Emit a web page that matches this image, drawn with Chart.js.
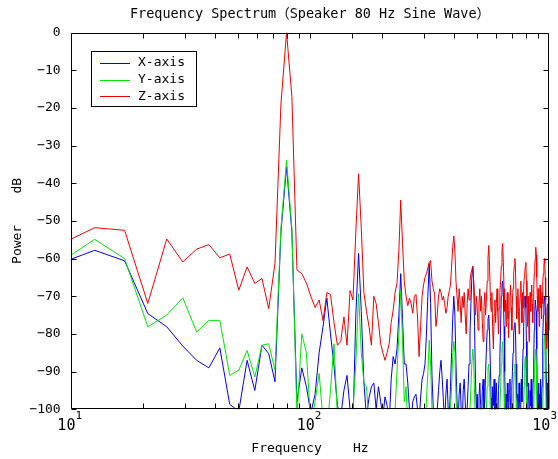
<!DOCTYPE html>
<html><head><meta charset="utf-8">
<script src="https://cdn.jsdelivr.net/npm/chart.js@4.4.0/dist/chart.umd.min.js"></script>
<style>html,body{margin:0;padding:0;background:#fff;overflow:hidden}</style>
</head><body>
<canvas id="c" width="558" height="459" style="width:558px;height:459px;display:block"></canvas>
<script>
const TITLE = 'Frequency Spectrum（Speaker 80 Hz Sine Wave）';
const X_TITLE = 'Frequency    Hz';
const Y_TITLE = 'Power    dB';
const SERIES_NAMES = ['X-axis', 'Y-axis', 'Z-axis'];
const SERIES_COLORS = ['#0000ee', '#00e600', '#ee0000'];
// FFT bins: bin spacing in Hz and index of the first listed bin
const BIN_HZ = 4.2;
const FIRST_BIN = 2;
// x tick labels: base and exponent (10^1, 10^2, 10^3)
const X_TICK_VALUES = [10, 100, 1000];
const X_TICK_EXPONENTS = ['1', '2', '3'];

const xAxisDb = [
 -62,-57.8,-60.6,-74.6,-78.1,-83.2,-87,-89,-83.7,-98.7,
 -100.5,-87,-95,-83,-85.2,-92.7,-53,-35.6,-53,-98,
 -89,-94,-101,-96,-85,-78,-70.5,-80,-88.5,-99,
 -102,-95,-91,-100,-104,-75,-58.6,-74,-93,-102,
 -97,-94,-93,-100,-94,-98,-102,-96.7,-99,-104,
 -92,-86,-88,-84,-75,-64,-76,-88,-88,-93,
 -100,-104,-98,-96.7,-96,-100,-104,-97,-92,-90.5,
 -88,-80,-70,-61.3,-72,-91,-100,-105,-104,-100,
 -95,-90,-87,-92,-98,-104,-96,-92,-100,-102,
 -94,-85,-76,-70,-75,-88,-98,-104,-96,-93,
 -100,-104,-95,-92,-98,-103,-100,-94,-88,-80,
 -72,-65,-62,-66,-78,-92,-100,-96,-104,-97,
 -93,-99,-104,-95,-92,-100,-98,-90,-84,-79,
 -76,-75,-80,-88,-97,-104,-94,-99,-92,-105,
 -96,-93,-100,-104,-95,-91,-86,-78,-70,-67,
 -66,-69,-78,-90,-100,-96,-104,-93,-98,-102,
 -95,-92,-99,-104,-94,-90,-85,-80,-78,-77,
 -79,-88,-97,-104,-96,-100,-93,-98,-104,-95,
 -92,-98,-90,-84,-78,-72,-70,-70,-73,-82,
 -94,-104,-97,-93,-100,-104,-95,-99,-92,-100,
 -104,-96,-92,-86,-79,-74,-71,-71,-74,-84,
 -95,-104,-98,-93,-100,-96,-104,-92,-97,-100,
 -94,-88,-81,-75,-71,-70,-70,-73,-80,-90,
 -100,-96,-104,-93,-98,-90,-95,-100,-97
];
const yAxisDb = [
 -62.3,-54.9,-60,-78.1,-75,-70.4,-79.5,-76.4,-76.4,-91,
 -89.6,-84.4,-91.4,-83,-82.6,-89.6,-52,-33.9,-52,-102,
 -80,-85,-104,-98,-90.5,-103,-106,-95,-82.6,-102,
 -106,-104,-102,-108,-100,-88,-69.3,-85,-93,-94,
 -104,-108,-106,-104,-108,-106,-104,-108,-106,-104,
 -108,-106,-100,-90,-80,-68.4,-82,-98,-94,-104,
 -108,-106,-104,-108,-106,-104,-108,-106,-104,-108,
 -104,-98,-90,-81.7,-88,-100,-108,-106,-104,-108,
 -106,-104,-108,-106,-104,-108,-106,-104,-108,-104,
 -100,-94,-86,-82,-85,-96,-106,-104,-108,-106,
 -104,-108,-106,-104,-108,-106,-104,-108,-106,-100,
 -94,-88,-84,-87,-96,-106,-108,-104,-106,-108,
 -104,-106,-108,-104,-106,-108,-104,-106,-100,-94,
 -89,-88,-92,-100,-108,-104,-106,-108,-104,-106,
 -108,-104,-106,-108,-104,-106,-100,-94,-88,-84,
 -82,-86,-96,-106,-108,-104,-106,-108,-104,-106,
 -108,-104,-106,-108,-104,-106,-100,-94,-90,-88,
 -90,-98,-106,-108,-104,-106,-108,-104,-106,-108,
 -104,-106,-108,-104,-100,-94,-88,-86,-89,-97,
 -106,-108,-104,-106,-108,-104,-106,-108,-104,-106,
 -108,-104,-106,-100,-94,-88,-84,-84,-88,-96,
 -106,-108,-104,-106,-108,-104,-106,-108,-104,-106,
 -108,-104,-100,-92,-86,-81,-80,-84,-92,-102,
 -108,-104,-106,-108,-104,-95,-88,-96,-106
];
const zAxisDb = [
 -57.2,-51.8,-52.5,-71.9,-54.8,-60.9,-57.5,-56.3,-59.8,-58.8,
 -68.4,-62.2,-66.6,-65.3,-73.3,-61.3,-19,0,-17,-63,
 -64,-66.5,-70,-73,-71,-76.5,-69,-69.5,-77,-83,
 -82,-75.5,-83,-68.5,-71,-53,-37.5,-52,-69,-74,
 -78,-83,-70,-72,-77,-82.6,-85,-87,-85,-82.6,
 -77,-73.7,-69,-66.6,-57.8,-44.5,-56,-66,-70,-72.5,
 -70.5,-72,-74.5,-70,-69.5,-75.5,-86,-78,-70,-67,
 -65,-64,-62.5,-61,-60.5,-66,-68,-69.5,-78,-75,
 -70,-68,-69,-71,-70,-72,-74.5,-73,-70,-68.5,
 -67,-62,-57,-54,-58,-66,-70,-74,-68,-72,
 -77,-70,-73,-69,-75,-80,-72,-68,-71,-66,
 -64,-63,-62,-66,-70,-75,-70,-73,-79,-72,
 -68,-74,-70,-77,-82,-73,-69,-75,-71,-66,
 -60,-56.5,-62,-70,-74,-69,-78,-84,-75,-71,
 -77,-72,-68,-74,-80,-73,-69,-66,-62,-58,
 -56,-61,-68,-74,-71,-78,-72,-69,-76,-81,
 -74,-70,-67,-73,-79,-71,-68,-64,-62,-60,
 -63,-70,-76,-72,-68,-74,-80,-73,-70,-66,
 -71,-77,-69,-73,-68,-65,-64,-62,-61,-66,
 -72,-78,-70,-75,-82,-73,-69,-74,-70,-67,
 -72,-77,-71,-68,-64,-62,-60,-57,-59,-65,
 -70,-74,-68,-72,-78,-71,-67,-73,-70,-76,
 -69,-72,-66,-64,-62,-60,-61,-65,-71,-77,
 -84,-78,-72,-80,-86,-75,-70,-79,-74
];

const freqHz = xAxisDb.map((_, i) => +((FIRST_BIN + i) * BIN_HZ).toFixed(2));
const toPoints = arr => arr.map((v, i) => ({x: freqHz[i], y: v}));
const seriesDb = [xAxisDb, yAxisDb, zAxisDb];

const FONT = "'DejaVu Sans Mono', 'Noto Sans CJK JP', monospace";
Chart.defaults.font.family = FONT;
Chart.defaults.color = '#000';

const framePlugin = {
  id: 'frame',
  afterDatasetsDraw(chart) {
    const {ctx, chartArea: a, scales: {x, y}} = chart;
    const L = Math.round(a.left) + 0.5, R = Math.round(a.right) - 0.5;
    const T = Math.round(a.top) + 0.5, B = Math.round(a.bottom) - 0.5;
    ctx.save();
    ctx.strokeStyle = '#000';
    ctx.lineWidth = 1;
    ctx.beginPath();
    ctx.rect(L, T, R - L, B - T);
    x.ticks.forEach(t => {
      const px = Math.round(x.getPixelForValue(t.value)) + 0.5;
      if (px < L || px > R) return;
      ctx.moveTo(px, B); ctx.lineTo(px, B - 5);
      ctx.moveTo(px, T); ctx.lineTo(px, T + 5);
    });
    y.ticks.forEach(t => {
      const py = Math.round(y.getPixelForValue(t.value)) + 0.5;
      ctx.moveTo(L, py); ctx.lineTo(L + 5, py);
      ctx.moveTo(R, py); ctx.lineTo(R - 5, py);
    });
    ctx.stroke();
    ctx.restore();
  }
};

const textPlugin = {
  id: 'texts',
  afterDraw(chart) {
    const {ctx, chartArea: a, scales: {x}} = chart;
    ctx.save();
    ctx.fillStyle = '#000';
    // title centred over the plot area
    ctx.font = "13.5px " + FONT;
    ctx.textAlign = 'center';
    ctx.textBaseline = 'middle';
    ctx.fillText(TITLE, (a.left + a.right) / 2, 14);
    // x tick labels: 10 with a raised exponent
    ctx.textAlign = 'left';
    X_TICK_VALUES.forEach((v, i) => {
      const px = x.getPixelForValue(v);
      ctx.font = "15px " + FONT;
      const wb = ctx.measureText('10').width;
      ctx.font = "11px " + FONT;
      const we = ctx.measureText(X_TICK_EXPONENTS[i]).width;
      let sx = px - (wb + we) / 2 - 1;
      if (sx + wb + we > 557) sx = 557 - wb - we;
      ctx.font = "15px " + FONT;
      ctx.fillText('10', sx, 426);
      ctx.font = "11px " + FONT;
      ctx.fillText(X_TICK_EXPONENTS[i], sx + wb, 416);
    });
    // legend box
    const bx = 91.5, by = 51.5, bw = 105, bh = 55;
    ctx.fillStyle = '#fff';
    ctx.fillRect(bx, by, bw, bh);
    ctx.strokeStyle = '#000';
    ctx.lineWidth = 1;
    ctx.strokeRect(bx, by, bw, bh);
    ctx.font = "13px " + FONT;
    ctx.textBaseline = 'middle';
    ctx.textAlign = 'left';
    chart.data.datasets.forEach((ds, i) => {
      const ly = 63 + i * 16.7;
      ctx.strokeStyle = ds.borderColor;
      ctx.beginPath();
      ctx.moveTo(100, Math.round(ly) + 0.5);
      ctx.lineTo(130, Math.round(ly) + 0.5);
      ctx.stroke();
      ctx.fillStyle = '#000';
      ctx.fillText(ds.label, 138, ly);
    });
    ctx.restore();
  }
};

new Chart(document.getElementById('c'), {
  type: 'line',
  data: {
    datasets: seriesDb.map((arr, i) => ({
      label: SERIES_NAMES[i],
      data: toPoints(arr),
      borderColor: SERIES_COLORS[i],
      backgroundColor: SERIES_COLORS[i],
      borderWidth: 1,
      pointRadius: 0,
      tension: 0,
      fill: false,
      order: 2 - i
    }))
  },
  options: {
    responsive: false,
    animation: false,
    devicePixelRatio: 1,
    layout: {padding: {left: 0, right: 8.7, top: 32.5, bottom: 0}, autoPadding: false},
    plugins: {
      legend: {display: false},
      tooltip: {enabled: false},
      title: {display: false}
    },
    scales: {
      x: {
        type: 'logarithmic', min: 10, max: 1000,
        grid: {display: false, drawTicks: false},
        border: {display: false},
        afterFit: s => { s.height = 49.7; s.paddingLeft = 0; s.paddingRight = 0; },
        ticks: {autoSkip: false, maxRotation: 0, padding: 6, callback: () => ''},
        title: {display: true, text: X_TITLE, font: {size: 13}, padding: {top: 0, bottom: 3}}
      },
      y: {
        min: -100, max: 0,
        grid: {display: false, drawTicks: false},
        border: {display: false},
        afterFit: s => { s.width = 70.7; s.paddingTop = 0; s.paddingBottom = 0; },
        ticks: {
          stepSize: 10, padding: 10, font: {size: 13},
          callback: v => v < 0 ? '−' + Math.abs(v) : String(v)
        },
        title: {display: true, text: Y_TITLE, font: {size: 13}, padding: {top: 10, bottom: 0}}
      }
    }
  },
  plugins: [framePlugin, textPlugin]
});
</script>
</body></html>
